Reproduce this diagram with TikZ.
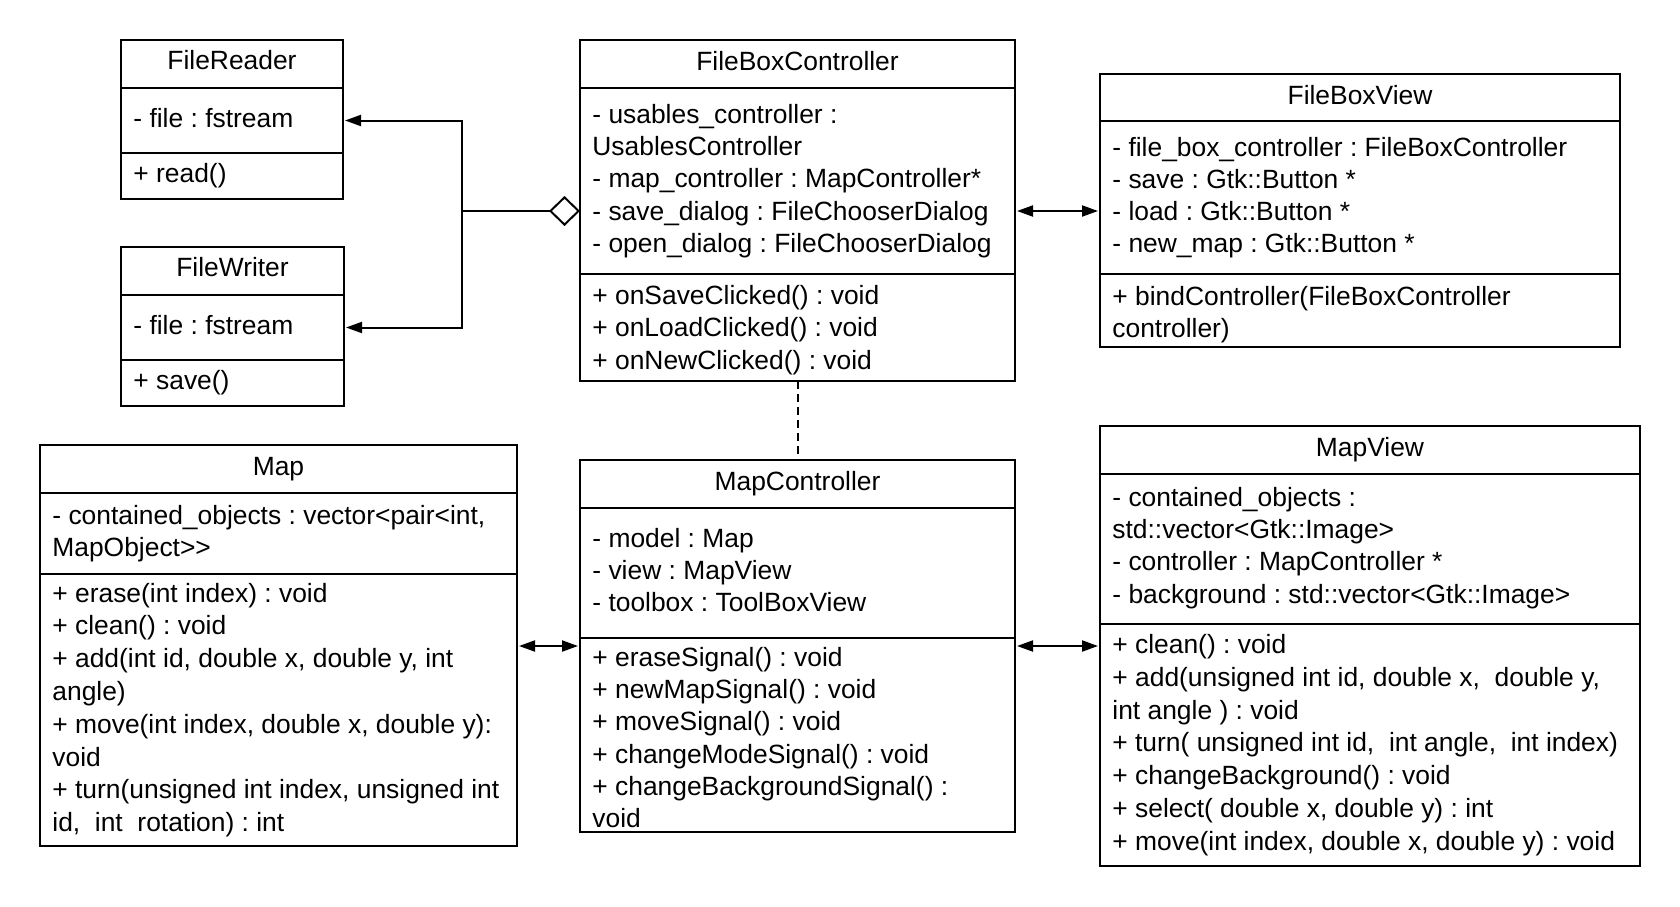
\documentclass[tikz,border=0pt]{standalone}
\usepackage{fontspec}
\setmainfont{Liberation Sans}
\usetikzlibrary{arrows.meta}
\newcommand{\umlfs}{\fontsize{13.2}{16.1}\selectfont\frenchspacing}
\newcommand{\umlfsw}{\fontsize{13.2}{16.4}\selectfont\frenchspacing}
\begin{document}
\begin{tikzpicture}[x=0.5pt,y=-0.5pt,
  comp/.style={draw, line width=1pt, anchor=north west, inner sep=0pt, outer sep=0pt},
  txt/.style={anchor=west, inner sep=0pt, align=left, font=\umlfs},
  ttl/.style={inner sep=0pt, font=\umlfs},
  bi/.style={line width=1pt, {Triangle[length=8pt,width=5.5pt]}-{Triangle[length=8pt,width=5.5pt]}, shorten <=1pt, shorten >=1pt},
  arr/.style={line width=1pt, -{Triangle[length=8pt,width=5.5pt]}, shorten >=1pt},
  agg/.style={line width=1pt, {Diamond[open,length=15.5pt,width=15pt]}-},
  dep/.style={line width=1pt, dash pattern=on 4pt off 2.5pt}]
\fill[white] (0,0) rectangle (1680,906);
\useasboundingbox (0,0) rectangle (1680,906);

% FileReader
\node[comp, minimum width=111pt, minimum height=24pt] (frT) at (121,40) {};
\node[comp, minimum width=111pt, minimum height=32.5pt] (frA) at (121,88) {};
\node[comp, minimum width=111pt, minimum height=23pt] (frM) at (121,153) {};
\node[ttl] at ([yshift=2pt]frT.center) {FileReader};
\node[txt] at ([xshift=6pt,yshift=1pt]frA.west) {- file : fstream};
\node[txt] at ([xshift=6pt]frM.west) {+ read()};

% FileWriter
\node[comp, minimum width=111.5pt, minimum height=24pt] (fwT) at (121,247) {};
\node[comp, minimum width=111.5pt, minimum height=32.5pt] (fwA) at (121,295) {};
\node[comp, minimum width=111.5pt, minimum height=23pt] (fwM) at (121,360) {};
\node[ttl] at ([yshift=2pt]fwT.center) {FileWriter};
\node[txt] at ([xshift=6pt,yshift=1pt]fwA.west) {- file : fstream};
\node[txt] at ([xshift=6pt]fwM.west) {+ save()};

% FileBoxController
\node[comp, minimum width=217.5pt, minimum height=24pt] (fbcT) at (580,40) {};
\node[comp, minimum width=217.5pt, minimum height=93pt] (fbcA) at (580,88) {};
\node[comp, minimum width=217.5pt, minimum height=53.5pt] (fbcM) at (580,274) {};
\node[ttl] at ([yshift=1.6pt]fbcT.center) {FileBoxController};
\node[txt] at ([xshift=6pt]fbcA.west) {- usables\_controller :\\UsablesController\\- map\_controller : MapController*\\- save\_dialog : FileChooserDialog\\- open\_dialog : FileChooserDialog};
\node[txt] at ([xshift=6pt,yshift=-1.3pt]fbcM.west) {+ onSaveClicked() : void\\+ onLoadClicked() : void\\+ onNewClicked() : void};

% FileBoxView
\node[comp, minimum width=260pt, minimum height=23.5pt] (fbvT) at (1100,74) {};
\node[comp, minimum width=260pt, minimum height=76.5pt] (fbvA) at (1100,121) {};
\node[comp, minimum width=260pt, minimum height=36.5pt] (fbvM) at (1100,274) {};
\node[ttl] at ([yshift=1pt]fbvT.center) {FileBoxView};
\node[txt] at ([xshift=6pt]fbvA.west) {- file\_box\_controller : FileBoxController\\- save : Gtk::Button *\\- load : Gtk::Button *\\- new\_map : Gtk::Button *};
\node[txt] at ([xshift=6pt,yshift=-2pt]fbvM.west) {+ bindController(FileBoxController\\controller)};

% Map
\node[comp, minimum width=238.5pt, minimum height=24pt] (mT) at (40,445) {};
\node[comp, minimum width=238.5pt, minimum height=40.5pt] (mA) at (40,493) {};
\node[comp, minimum width=238.5pt, minimum height=136pt] (mM) at (40,574) {};
\node[ttl] at (mT.center) {Map};
\node[txt] at ([xshift=6pt]mA.west) {- contained\_objects : vector<pair<int,\\MapObject>{}>};
\node[txt, font=\umlfsw] at ([xshift=6pt]mM.west) {+ erase(int index) : void\\+ clean() : void\\+ add(int id, double x, double y, int\\angle)\\+ move(int index, double x, double y):\\void\\+ turn(unsigned int index, unsigned int\\id,\ \ int\ \ rotation) : int};

% MapController
\node[comp, minimum width=217.5pt, minimum height=24pt] (mcT) at (580,460) {};
\node[comp, minimum width=217.5pt, minimum height=65pt] (mcA) at (580,508) {};
\node[comp, minimum width=217.5pt, minimum height=97pt] (mcM) at (580,638) {};
\node[ttl] at (mcT.center) {MapController};
\node[txt] at ([xshift=6pt,yshift=1.6pt]mcA.west) {- model : Map\\- view : MapView\\- toolbox : ToolBoxView};
\node[txt] at ([xshift=6pt,yshift=-1.3pt]mcM.west) {+ eraseSignal() : void\\+ newMapSignal() : void\\+ moveSignal() : void\\+ changeModeSignal() : void\\+ changeBackgroundSignal() :\\void};

% MapView
\node[comp, minimum width=270pt, minimum height=24pt] (mvT) at (1100,426) {};
\node[comp, minimum width=270pt, minimum height=75pt] (mvA) at (1100,474) {};
\node[comp, minimum width=270pt, minimum height=121pt] (mvM) at (1100,624) {};
\node[ttl] at (mvT.center) {MapView};
\node[txt] at ([xshift=6pt,yshift=0.5pt]mvA.west) {- contained\_objects :\\std::vector<Gtk::Image>\\- controller : MapController *\\- background : std::vector<Gtk::Image>};
\node[txt, font=\umlfsw] at ([xshift=6pt]mvM.west) {+ clean() : void\\+ add(unsigned int id, double x,\ \ double y,\\int angle ) : void\\+ turn( unsigned int id,\ \ int angle,\ \ int index)\\+ changeBackground() : void\\+ select( double x, double y) : int\\+ move(int index, double x, double y) : void};

% connectors
\coordinate (pL) at ([yshift=-15pt]fbcA.west);
\draw[agg] (pL) -- ++(-118,0) coordinate (jn);
\draw[arr] (jn) |- (frA.east);
\draw[arr] (jn) |- (fwA.east);
\coordinate (pR) at ([yshift=-15pt]fbcA.east);
\draw[bi] (pR) -- (pR -| fbvA.west);
\draw[dep] (fbcM.south) -- (mcT.north);
\coordinate (qL) at ([yshift=-4pt]mcM.north west);
\coordinate (qR) at ([yshift=-4pt]mcM.north east);
\draw[bi] (qL) -- (qL -| mM.east);
\draw[bi] (qR) -- (qR -| mvM.west);
\end{tikzpicture}
\end{document}
